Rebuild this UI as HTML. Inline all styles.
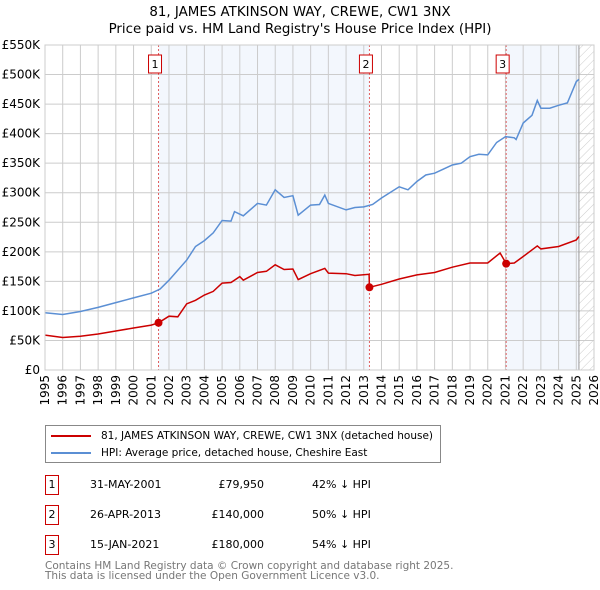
<!DOCTYPE html>
<html><head><meta charset="utf-8"><style>
body{margin:0;background:#fff;font-family:"DejaVu Sans","Liberation Sans",sans-serif;}
#wrap{position:relative;width:600px;height:590px;overflow:hidden}
</style></head><body>
<div id="wrap">
<svg id="svg" width="600" height="590" xmlns="http://www.w3.org/2000/svg" style="font-family:'DejaVu Sans','Liberation Sans',sans-serif">
<defs><pattern id="hatch" width="6" height="6" patternUnits="userSpaceOnUse" patternTransform="rotate(45)"><rect width="6" height="6" fill="#fff"/><line x1="0" y1="0" x2="0" y2="6" stroke="#ccc" stroke-width="1"/></pattern></defs>
<text x="300" y="16" text-anchor="middle" font-size="13.4">81, JAMES ATKINSON WAY, CREWE, CW1 3NX</text>
<text x="300" y="33" text-anchor="middle" font-size="13.4">Price paid vs. HM Land Registry's House Price Index (HPI)</text>
<g id="plot"></g>
</svg>
<div style="position:absolute;left:45px;top:425px;width:394px;height:36px;border:1px solid #888;font-size:10.5px">
<div style="position:absolute;left:5px;top:4px;white-space:nowrap"><span style="display:inline-block;width:40px;height:2px;background:#cc0000;vertical-align:middle;margin-right:10px"></span>81, JAMES ATKINSON WAY, CREWE, CW1 3NX (detached house)</div>
<div style="position:absolute;left:5px;top:21px;white-space:nowrap"><span style="display:inline-block;width:40px;height:2px;background:#5b8fd4;vertical-align:middle;margin-right:10px"></span>HPI: Average price, detached house, Cheshire East</div>
</div>
<div id="rows"></div>
<div style="position:absolute;left:45px;top:561px;font-size:10.5px;color:#777;line-height:10px">Contains HM Land Registry data © Crown copyright and database right 2025.<br>This data is licensed under the Open Government Licence v3.0.</div>
</div>
<script>
const hpiYears=[1995,1996,1997,1998,1999,2000,2001,2001.5,2002,2003,2003.5,2004,2004.5,2005,2005.5,2005.7,2006.2,2007,2007.5,2008,2008.5,2009,2009.3,2010,2010.5,2010.8,2011,2012,2012.5,2013,2013.5,2014,2015,2015.5,2016,2016.5,2017,2017.5,2018,2018.5,2019,2019.5,2020,2020.5,2021,2021.5,2021.6,2022,2022.5,2022.8,2023,2023.5,2024,2024.5,2025,2025.15];
const hpiValues=[97,94,99,106,114,122,130,137,152,186,209,219,232,253,252,268,261,282,279,305,292,295,262,279,280,296,282,271,275,276,280,291,310,305,319,330,333,340,347,350,361,365,364,385,395,393,390,418,431,456,443,443,448,452,488,492];
const ppYears=[1995,1996,1997,1998,1999,2000,2001,2001.41,2002,2002.5,2003,2003.5,2004,2004.5,2005,2005.5,2006,2006.2,2007,2007.5,2008,2008.5,2009,2009.3,2010,2010.8,2011,2012,2012.5,2013.3,2013.32,2014,2015,2016,2017,2018,2019,2020,2020.7,2021.04,2021.5,2022,2022.8,2023,2024,2025,2025.15];
const ppValues=[59,55,57,61,66,71,76,79.95,91,90,112,118,127,133,147,148,158,152,165,167,178,170,171,153,163,172,164,163,160,162,140,145,154,161,165,174,181,181,198,180,181,192,210,205,209,220,226];
const saleYears=[2001.41,2013.32,2021.04];
const saleValues=[79950,140000,180000];
const saleLabels=["1","2","3"];
const saleDates=["31-MAY-2001","26-APR-2013","15-JAN-2021"];
const salePrices=["£79,950","£140,000","£180,000"];
const saleDiffs=["42% ↓ HPI","50% ↓ HPI","54% ↓ HPI"];
const yTicks=[0,50,100,150,200,250,300,350,400,450,500,550];
const xTicks=[];for(let y=1995;y<=2026;y++)xTicks.push(y);
const X0=45,X1=594,Y0=370,Y1=45;
const xs=y=>X0+(y-1995)*(X1-X0)/31;
const ys=v=>Y0-v*(Y0-Y1)/550;
const NS="http://www.w3.org/2000/svg";
const g=document.getElementById('plot');
function mk(t,a){const e=document.createElementNS(NS,t);for(const k in a)e.setAttribute(k,a[k]);g.appendChild(e);return e;}
let e;
e=mk('rect',{x:X0,y:Y1,width:X1-X0,height:Y0-Y1,fill:'#fff'});


e=mk('rect',{x:xs(saleYears[0]),y:Y1,width:xs(saleYears[1])-xs(saleYears[0]),height:Y0-Y1,fill:'#eef3fc',opacity:0.7});


e=mk('rect',{x:xs(saleYears[2]),y:Y1,width:xs(2025.15)-xs(saleYears[2]),height:Y0-Y1,fill:'#eef3fc',opacity:0.7});


e=mk('rect',{x:xs(2025.15),y:Y1,width:X1-xs(2025.15),height:Y0-Y1,fill:'url(#hatch)'});


xTicks.forEach(y=>{
 e=mk('line',{x1:xs(y),x2:xs(y),y1:Y1,y2:Y0,stroke:'#ccc','stroke-width':1});
 
 
 e=mk('text',{x:0,y:0,'font-size':12,'text-anchor':'end',transform:`translate(${xs(y)+4},${Y0+5}) rotate(-90)`});
 e.textContent=y;
 
 
});
yTicks.forEach(v=>{
 e=mk('line',{x1:X0,x2:X1,y1:ys(v),y2:ys(v),stroke:'#ccc','stroke-width':1});
 
 
 e=mk('text',{x:40,y:ys(v)+4,'font-size':12,'text-anchor':'end'});
 e.textContent=v===0?'£0':'£'+v+'K';
 
 
});
e=mk('line',{x1:xs(2025.15),x2:xs(2025.15),y1:Y1,y2:Y0,stroke:'#999','stroke-width':1});


saleYears.forEach((y,i)=>{
 e=mk('line',{x1:xs(y),x2:xs(y),y1:Y1,y2:Y0,stroke:'#e06060','stroke-width':1,'stroke-dasharray':'2,2'});
 
 
 e=mk('rect',{x:xs(y)-10,y:55,width:13,height:18,fill:'#fff',stroke:'#c00','stroke-width':1});
 
 
 e=mk('text',{x:xs(y)-3.5,y:68,'font-size':11,'text-anchor':'middle'});
 e.textContent=saleLabels[i];
 
 
});
function path(xa,va){return xa.map((x,i)=>(i?'L':'M')+xs(x).toFixed(1)+','+ys(va[i]).toFixed(1)).join('');}
e=mk('path',{d:path(hpiYears,hpiValues),fill:'none',stroke:'#5b8fd4','stroke-width':1.5});


e=mk('path',{d:path(ppYears,ppValues),fill:'none',stroke:'#cc0000','stroke-width':1.5});


saleYears.forEach((y,i)=>{
 e=mk('circle',{cx:xs(y),cy:ys(saleValues[i]/1000),r:4,fill:'#cc0000'});
 
 
});
e=mk('rect',{x:X0,y:Y1,width:X1-X0,height:Y0-Y1,fill:'none',stroke:'#ccc'});


const rows=document.getElementById('rows');
saleLabels.forEach((l,i)=>{
 const top=475+i*30;
 const r=document.createElement('div');
 
 
 r.style.cssText=`position:absolute;left:0;top:${top}px;width:600px;height:20px;font-size:11px`;
 r.innerHTML=`<div style="position:absolute;left:45px;top:0;width:12px;height:18px;border:1px solid #c00;text-align:center;line-height:17px">${l}</div>`+
 `<div style="position:absolute;left:90px;top:3px">${saleDates[i]}</div>`+
 `<div style="position:absolute;right:336px;top:3px">${salePrices[i]}</div>`+
 `<div style="position:absolute;left:312px;top:3px">${saleDiffs[i]}</div>`;
 rows.appendChild(r);
});
</script>
</body></html>
